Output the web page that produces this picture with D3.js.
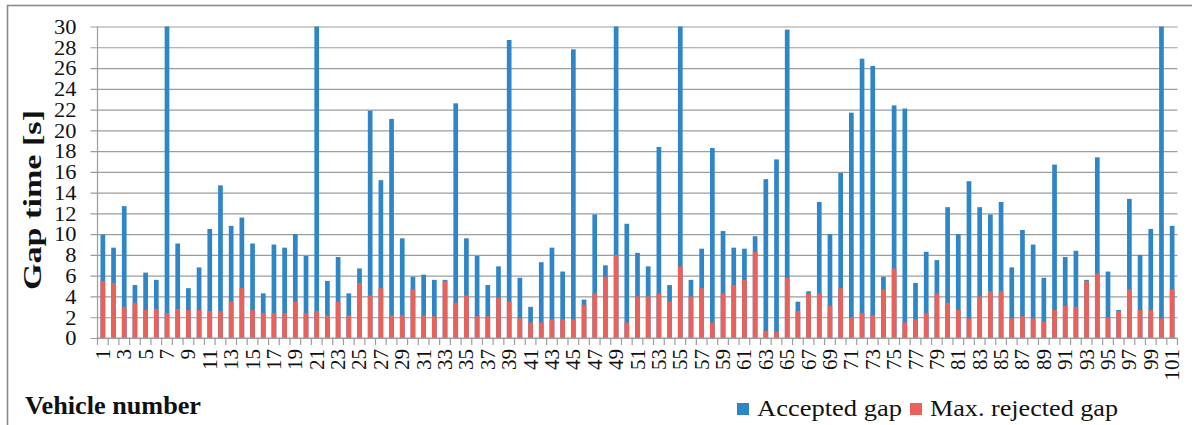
<!DOCTYPE html>
<html>
<head>
<meta charset="utf-8">
<script src="https://cdn.jsdelivr.net/npm/d3@7"></script>
<style>
  html, body { margin: 0; padding: 0; background: #fff; }
  svg text { font-family: "Liberation Serif", "Times New Roman", Times, serif; }
</style>
</head>
<body>
<svg width="1192" height="425"></svg>
<script>
// ---- Data
const vehicles = d3.range(1, 102).map(String);
const acceptedGap = [
  9.95, 8.7, 12.7, 5.1, 6.3, 5.6, 30, 9.1, 4.8, 6.8,
  10.5, 14.7, 10.8, 11.6, 9.1, 4.3, 9.0, 8.7, 10.0, 7.9,
  30, 5.5, 7.8, 4.3, 6.7, 21.9, 15.2, 21.1, 9.6, 5.9,
  6.1, 5.6, 5.6, 22.6, 9.6, 7.9, 5.1, 6.9, 28.7, 5.8,
  3.0, 7.3, 8.7, 6.4, 27.8, 3.7, 11.9, 7.0, 30, 11.0,
  8.2, 6.9, 18.4, 5.1, 30, 5.6, 8.6, 18.3, 10.3, 8.7,
  8.6, 9.8, 15.3, 17.2, 29.7, 3.5, 4.5, 13.1, 10.0, 15.9,
  21.7, 26.9, 26.2, 5.9, 22.4, 22.1, 5.3, 8.3, 7.5, 12.6,
  10.0, 15.1, 12.6, 11.9, 13.1, 6.8, 10.4, 9.0, 5.8, 16.7,
  7.8, 8.4, 5.6, 17.4, 6.4, 2.7, 13.4, 8.0, 10.5, 30,
  10.8
];
const maxRejectedGap = [
  5.5, 5.3, 3.0, 3.4, 2.7, 2.8, 2.4, 2.8, 2.7, 2.7,
  2.6, 2.6, 3.5, 4.8, 2.7, 2.4, 2.4, 2.4, 3.5, 2.4,
  2.6, 2.2, 3.5, 2.2, 5.3, 4.1, 4.8, 2.2, 2.2, 4.7,
  2.2, 2.1, 5.5, 3.4, 4.1, 2.1, 2.1, 3.9, 3.5, 1.9,
  1.5, 1.5, 1.8, 1.8, 1.8, 3.2, 4.3, 5.9, 8.0, 1.5,
  4.0, 4.0, 4.3, 3.5, 6.9, 4.0, 4.8, 1.5, 4.3, 5.1,
  5.6, 8.3, 0.7, 0.6, 5.8, 2.6, 4.3, 4.3, 3.1, 4.8,
  2.0, 2.4, 2.2, 4.7, 6.7, 1.5, 1.8, 2.4, 4.3, 3.4,
  2.7, 1.9, 4.0, 4.5, 4.5, 1.9, 2.1, 1.9, 1.6, 2.7,
  3.1, 3.0, 5.5, 6.2, 2.0, 2.6, 4.7, 2.7, 2.7, 1.9,
  4.7
];
const yTicks = d3.range(0, 31, 2);
const xLabels = vehicles.filter((d, i) => i % 2 === 0);
const seriesNames = ["Accepted gap", "Max. rejected gap"];
const colors = ["#2f86c6", "#e8615b"];

const data = vehicles.map((v, i) => ({ v, acc: acceptedGap[i], rej: maxRejectedGap[i] }));

// ---- Layout
const svg = d3.select('svg');
const margin = { left: 97.5, right: 14.5, top: 26.5, bottom: 87 };
const W = 1192, H = 425;
const innerW = W - margin.left - margin.right;
const innerH = H - margin.top - margin.bottom;
const serif = '"Liberation Serif", "Times New Roman", Times, serif';

// frame
svg.append('rect')
  .attr('x', 7.5).attr('y', 5.5)
  .attr('width', 1300).attr('height', 600)
  .attr('fill', 'none')
  .attr('stroke', '#8a8a8a')
  .attr('stroke-width', 1.6);

const g = svg.append('g').attr('transform', `translate(${margin.left},${margin.top})`);

const x = d3.scaleBand().domain(vehicles).range([0, innerW]).paddingInner(0.56).paddingOuter(0.28);
const xEdge = d3.scaleLinear().domain([0, vehicles.length]).range([0, innerW]);
const y = d3.scaleLinear().domain([0, 30]).range([innerH, 0]);

// ---- Gridlines + y axis
const yAxis = d3.axisLeft(y).tickValues(yTicks).tickSize(-innerW);
g.append('g')
  .call(yAxis)
  .attr('font-family', serif)
  .attr('font-size', 20)
  .call(a => a.select('.domain').remove())
  .call(a => a.selectAll('.tick line')
    .attr('x1', -7)
    .attr('stroke', '#9d9d9d')
    .attr('stroke-width', 1.2))
  .call(a => a.selectAll('.tick text')
    .attr('x', -21)
    .attr('dy', '0.34em')
    .attr('fill', '#111')
    .attr('textLength', d => String(d).length * 11.2)
    .attr('lengthAdjust', 'spacingAndGlyphs'));

// y axis line
g.append('line')
  .attr('x1', 0).attr('x2', 0)
  .attr('y1', 0).attr('y2', innerH)
  .attr('stroke', '#9d9d9d').attr('stroke-width', 1.2);

// ---- Bars (overlapping, rejected in front)
g.append('g').selectAll('rect')
  .data(data).join('rect')
  .attr('x', d => x(d.v))
  .attr('y', d => y(Math.min(d.acc, 30)))
  .attr('width', x.bandwidth())
  .attr('height', d => innerH - y(Math.min(d.acc, 30)))
  .attr('fill', colors[0]);

g.append('g').selectAll('rect')
  .data(data).join('rect')
  .attr('x', d => x(d.v))
  .attr('y', d => y(d.rej))
  .attr('width', x.bandwidth())
  .attr('height', d => innerH - y(d.rej))
  .attr('fill', colors[1]);

// ---- X axis
g.append('line')
  .attr('x1', 0).attr('x2', innerW)
  .attr('y1', innerH).attr('y2', innerH)
  .attr('stroke', '#9d9d9d').attr('stroke-width', 1.2);

g.append('g').selectAll('line')
  .data(d3.range(0, vehicles.length + 1)).join('line')
  .attr('x1', d => xEdge(d)).attr('x2', d => xEdge(d))
  .attr('y1', innerH).attr('y2', innerH + 7)
  .attr('stroke', '#9d9d9d').attr('stroke-width', 1.2);

g.append('g').selectAll('text')
  .data(xLabels).join('text')
  .attr('transform', d => `translate(${x(d) + x.bandwidth() / 2 + 7},${innerH + 11}) rotate(-90)`)
  .attr('text-anchor', 'end')
  .attr('font-family', serif)
  .attr('font-size', 20)
  .attr('fill', '#111')
  .attr('textLength', d => d.length * 10.5)
  .attr('lengthAdjust', 'spacingAndGlyphs')
  .text(d => d);

// ---- Axis titles
svg.append('text')
  .attr('transform', 'translate(41,200) rotate(-90)')
  .attr('text-anchor', 'middle')
  .attr('font-family', serif)
  .attr('font-size', 25)
  .attr('font-weight', 'bold')
  .attr('fill', '#111')
  .attr('textLength', 180)
  .attr('lengthAdjust', 'spacingAndGlyphs')
  .text('Gap time  [s]');

svg.append('text')
  .attr('x', 25).attr('y', 414)
  .attr('font-family', serif)
  .attr('font-size', 25)
  .attr('font-weight', 'bold')
  .attr('fill', '#111')
  .attr('textLength', 176)
  .attr('lengthAdjust', 'spacingAndGlyphs')
  .text('Vehicle number');

// ---- Legend
const legendX = [737, 910];
const legendLen = [145, 188];
const legend = svg.append('g').selectAll('g')
  .data(seriesNames).join('g')
  .attr('transform', (d, i) => `translate(${legendX[i]},0)`);
legend.append('rect')
  .attr('x', 0).attr('y', 403)
  .attr('width', 12).attr('height', 12)
  .attr('fill', (d, i) => colors[i]);
legend.append('text')
  .attr('x', 20).attr('y', 416)
  .attr('font-family', serif)
  .attr('font-size', 23)
  .attr('fill', '#111')
  .attr('textLength', (d, i) => legendLen[i])
  .attr('lengthAdjust', 'spacingAndGlyphs')
  .text(d => d);
</script>
</body>
</html>
